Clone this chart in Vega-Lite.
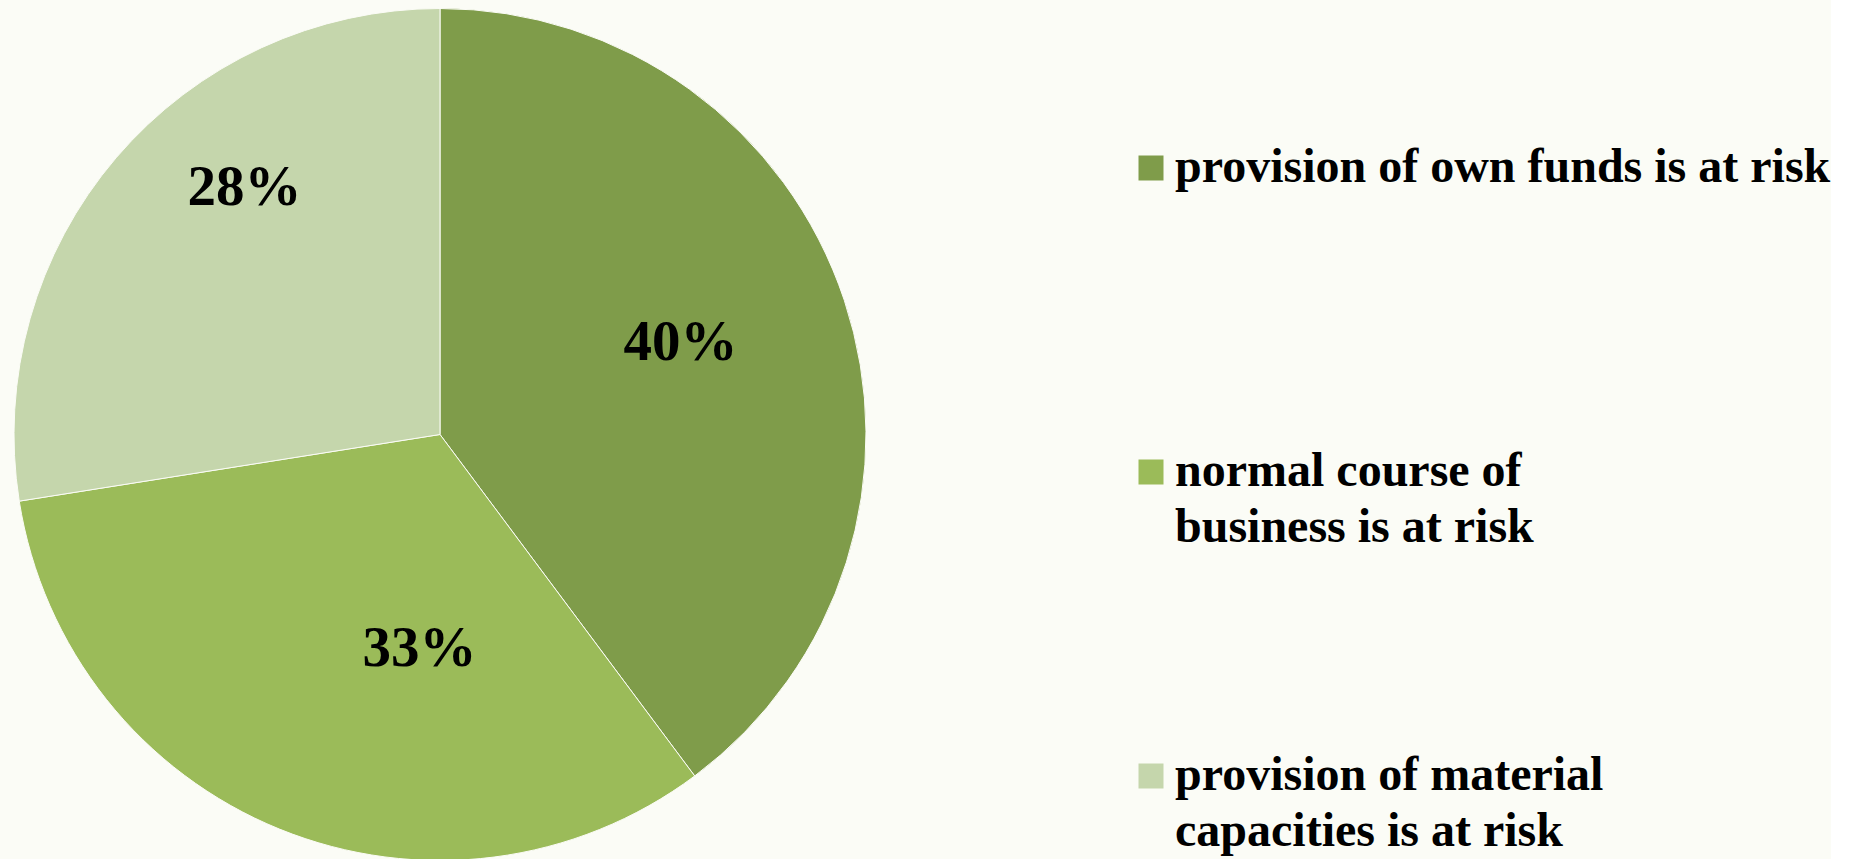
{
  "$schema": "https://vega.github.io/schema/vega-lite/v6.json",
  "width": 880,
  "height": 859,
  "padding": {"left": 0, "top": 5, "right": 0, "bottom": 0},
  "autosize": {"type": "pad"},
  "background": "#FBFCF6",
  "config": {
    "view": {"stroke": null},
    "style": {"guide-label": {"lineHeight": 56}}
  },
  "data": {
    "values": [
      {"category": "provision of own funds is at risk", "value": 39.8, "pct": "40%", "o": 1},
      {"category": "normal course of business is at risk", "value": 32.7, "pct": "33%", "o": 2},
      {"category": "provision of material capacities is at risk", "value": 27.5, "pct": "28%", "o": 3}
    ]
  },
  "encoding": {
    "theta": {"field": "value", "type": "quantitative", "stack": true},
    "order": {"field": "o", "type": "quantitative", "sort": "ascending"}
  },
  "layer": [
    {
      "mark": {"type": "arc", "outerRadius": 426, "stroke": "#FBFCF6", "strokeWidth": 1},
      "encoding": {
        "color": {
          "field": "category",
          "type": "nominal",
          "sort": null,
          "scale": {
            "domain": ["provision of own funds is at risk", "normal course of business is at risk", "provision of material capacities is at risk"],
            "range": ["#7F9C4A", "#9BBB59", "#C5D6AC"]
          },
          "legend": {
            "title": null,
            "orient": "none",
            "legendX": 1127,
            "legendY": 139,
            "symbolType": "square",
            "symbolSize": 625,
            "symbolStrokeWidth": 0,
            "labelOffset": 0,
            "labelFont": "Liberation Serif",
            "labelFontWeight": "bold",
            "labelFontSize": 48,
            "labelColor": "#000000",
            "labelLimit": 0,
            "rowPadding": 200,
            "labelExpr": "datum.label == 'normal course of business is at risk' ? ['normal course of', 'business is at risk'] : datum.label == 'provision of material capacities is at risk' ? ['provision of material', 'capacities is at risk'] : [datum.label, ' ']"
          }
        }
      }
    },
    {
      "mark": {"type": "text", "radius": 260, "thetaOffset": -0.07, "dy": 7, "font": "Liberation Serif", "fontWeight": "bold", "fontSize": 57, "fill": "#000000"},
      "encoding": {
        "text": {"field": "pct", "type": "nominal"},
        "opacity": {"condition": {"test": "datum.o == 1", "value": 1}, "value": 0}
      }
    },
    {
      "mark": {"type": "text", "radius": 209, "thetaOffset": -0.288, "dy": 7, "font": "Liberation Serif", "fontWeight": "bold", "fontSize": 57, "fill": "#000000"},
      "encoding": {
        "text": {"field": "pct", "type": "nominal"},
        "opacity": {"condition": {"test": "datum.o == 2", "value": 1}, "value": 0}
      }
    },
    {
      "mark": {"type": "text", "radius": 321, "thetaOffset": 0.209, "dy": 8, "font": "Liberation Serif", "fontWeight": "bold", "fontSize": 57, "fill": "#000000"},
      "encoding": {
        "text": {"field": "pct", "type": "nominal"},
        "opacity": {"condition": {"test": "datum.o == 3", "value": 1}, "value": 0}
      }
    }
  ]
}
